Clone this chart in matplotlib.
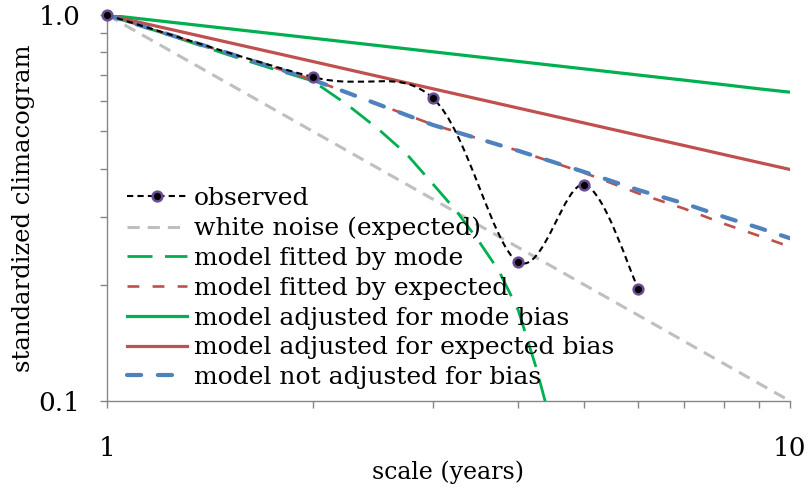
import numpy as np
import matplotlib
matplotlib.use("Agg")
import matplotlib.pyplot as plt
from matplotlib.path import Path
from matplotlib.patches import PathPatch
from matplotlib.lines import Line2D
from matplotlib.ticker import FixedLocator, FixedFormatter, NullFormatter

plt.rcParams['font.family'] = ['DejaVu Serif']

# data
obs_x = [1, 2, 3, 4, 5, 6]
obs_y = [1.0, 0.691, 0.609, 0.229, 0.363, 0.195]

wn_x = [1, 10]
wn_y = [1.0, 0.1]

mode_fit_x = [1, 1.25, 1.5, 1.75, 2, 2.25, 2.5, 2.75, 3, 3.25, 3.5, 3.75, 4, 4.25, 4.45]
mode_fit_y = [1.0, 0.88, 0.79, 0.725, 0.675, 0.585, 0.505, 0.435, 0.365, 0.31, 0.26, 0.217, 0.172, 0.122, 0.09]

scales = [1, 2, 3, 4, 5, 6, 7, 8, 9, 10]
exp_fit_y = [1.0, 0.68, 0.52, 0.445, 0.39, 0.345, 0.315, 0.288, 0.268, 0.251]
adj_mode_y = [1.0, 0.871, 0.803, 0.758, 0.725, 0.699, 0.678, 0.660, 0.644, 0.631]
adj_exp_y = [1.0, 0.758, 0.644, 0.574, 0.525, 0.488, 0.459, 0.435, 0.415, 0.398]
not_adj_y = [1.0, 0.68, 0.519, 0.445, 0.392, 0.352, 0.325, 0.300, 0.281, 0.264]

c_gray = '#BFBFBF'
c_green = '#00B050'
c_red = '#C0504D'
c_blue = '#4F81BD'
c_axis = '#868686'

fig = plt.figure(figsize=(8.08, 4.90), dpi=100)
ax = fig.add_axes([0.1324, 0.1816, 0.9777 - 0.1324, 0.9694 - 0.1816])
ax.set_xscale('log')
ax.set_yscale('log')
ax.set_xlim(1, 10)
ax.set_ylim(0.1, 1.0)


def smooth_path(xs, ys):
    # excel-like smoothed line: bezier through the points in log space
    lx = np.log10(xs)
    ly = np.log10(ys)
    p = np.column_stack([lx, ly])
    n = len(p)
    verts = [p[0]]
    codes = [Path.MOVETO]
    for i in range(n - 1):
        p0 = p[i - 1] if i > 0 else p[i]
        p3 = p[i + 2] if i + 2 < n else p[i + 1]
        c1 = p[i] + (p[i + 1] - p0) / 6.0
        c2 = p[i + 1] - (p3 - p[i]) / 6.0
        verts += [c1, c2, p[i + 1]]
        codes += [Path.CURVE4] * 3
    verts = 10 ** np.array(verts)
    return Path(verts, codes)


ax.plot(wn_x, wn_y, color=c_gray, lw=2.2, dashes=(4, 2.6), zorder=2)
ax.plot(mode_fit_x, mode_fit_y, color=c_green, lw=2.0, dashes=(9, 4.5), zorder=3)
ax.plot(scales, exp_fit_y, color=c_red, lw=1.9, dashes=(4.5, 5), zorder=4)
ax.plot(scales, adj_mode_y, color=c_green, lw=2.3, zorder=5)
ax.plot(scales, adj_exp_y, color=c_red, lw=2.3, zorder=6)
ax.plot(scales, not_adj_y, color=c_blue, lw=3.0, dashes=(3.4, 4.0),
        dash_capstyle='round', zorder=7)

patch = PathPatch(smooth_path(obs_x, obs_y), facecolor='none', edgecolor='black',
                  lw=1.5, linestyle=(0, (3, 2)), zorder=8)
ax.add_patch(patch)
ax.plot(obs_x, obs_y, linestyle='none', marker='o', ms=7, mfc='black',
        mec='#6A4C93', mew=1.8, zorder=9, clip_on=False)

for s in ['top', 'right']:
    ax.spines[s].set_visible(False)
for s in ['left', 'bottom']:
    ax.spines[s].set_color(c_axis)
    ax.spines[s].set_linewidth(1.0)

ax.xaxis.set_major_locator(FixedLocator([1, 10]))
ax.xaxis.set_major_formatter(FixedFormatter(['1', '10']))
ax.xaxis.set_minor_locator(FixedLocator([2, 3, 4, 5, 6, 7, 8, 9]))
ax.xaxis.set_minor_formatter(NullFormatter())
ax.yaxis.set_major_locator(FixedLocator([0.1, 1.0]))
ax.yaxis.set_major_formatter(FixedFormatter(['0.1', '1.0']))
ax.yaxis.set_minor_locator(FixedLocator([0.2, 0.3, 0.4, 0.5, 0.6, 0.7, 0.8, 0.9]))
ax.yaxis.set_minor_formatter(NullFormatter())

ax.tick_params(axis='both', which='both', direction='out', color=c_axis,
               length=5, width=1.0, labelsize=19)
ax.tick_params(axis='x', which='major', pad=20)
ax.tick_params(axis='y', which='major', pad=14)

ax.set_xlabel('scale (years)', fontsize=17, labelpad=0)
ax.set_ylabel('standardized climacogram', fontsize=17.5, labelpad=3)

handles = [
    Line2D([], [], color='black', lw=1.5, dashes=(3, 2), marker='o', ms=7,
           mfc='black', mec='#6A4C93', mew=1.8),
    Line2D([], [], color=c_gray, lw=2.2, dashes=(4, 2.6)),
    Line2D([], [], color=c_green, lw=2.0, dashes=(9, 4.5)),
    Line2D([], [], color=c_red, lw=1.9, dashes=(4.5, 5)),
    Line2D([], [], color=c_green, lw=2.3),
    Line2D([], [], color=c_red, lw=2.3),
    Line2D([], [], color=c_blue, lw=3.0, dashes=(3.4, 4.0), dash_capstyle='round'),
]
labels = ['observed', 'white noise (expected)', 'model fitted by mode',
          'model fitted by expected', 'model adjusted for mode bias',
          'model adjusted for expected bias', 'model not adjusted for bias']
leg = ax.legend(handles, labels, loc='upper left',
                bbox_to_anchor=(127 / 808, 1 - 187 / 490),
                bbox_transform=fig.transFigure, frameon=False, fontsize=18,
                handlelength=2.4, handletextpad=0.28, labelspacing=0.27,
                borderpad=0, borderaxespad=0, numpoints=1)

fig.savefig('out.png', dpi=100)
